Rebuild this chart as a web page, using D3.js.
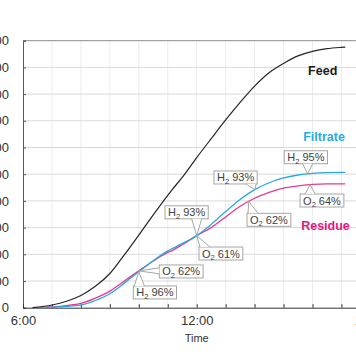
<!DOCTYPE html>
<html><head><meta charset="utf-8">
<script src="https://cdn.jsdelivr.net/npm/d3@7"></script>
<style>html,body{margin:0;padding:0;background:#fff;overflow:hidden}</style>
</head><body>
<svg id="chart" width="356" height="364"></svg>
<script>
// ---- data ----
const times = ["6:20","7:00","7:30","8:00","8:30","9:00","9:30","10:00","10:30","11:00","11:10","11:30","12:00","12:30","13:00","13:30","14:00","14:30","15:00","15:30","16:00","16:30","17:00","17:08"];
const feed     = [0, 10, 24, 46, 80, 128, 198, 272, 348, 421, 444, 488, 562, 633, 703, 769, 830, 880, 915, 943, 960, 970, 975, 976];
const filtrate = [0, 2, 5, 10, 27, 52, 92, 135, 176, 213, 222, 240, 270, 312, 360, 405, 442, 468, 486, 497, 503, 506, 507, 507];
const residue  = [0, 3, 8, 16, 36, 62, 100, 138, 175, 207, 215, 236, 270, 300, 340, 380, 410, 432, 448, 456, 462, 464, 464, 464];
const seriesNames = ["Feed", "Filtrate", "Residue"];
const yTicks = [0,100,200,300,400,500,600,700,800,900,1000];
const xTickLabels = ["6:00","12:00","18:00"];
const xAxisTitle = "Time";
// annotations: gas, percent, series, time
const annGas     = ["H","O","H","O","H","O","H","O"];
const annPercent = ["96%","62%","93%","61%","93%","62%","95%","64%"];
const annSeries  = ["Filtrate","Residue","Filtrate","Residue","Filtrate","Residue","Filtrate","Residue"];
const annTime    = ["10:00","10:00","12:00","12:00","14:00","13:48","15:50","15:55"];

// ---- layout / style ----
const layout = {
  left: 23, right: 370.4, top: 40.7, bottom: 307.7,
  annOffset: [[-5.5,14.3,"top"],[20.5,-5.9,"left"],[-31.7,-29.8,"bottom"],[2.3,11.4,"top"],
              [-40.6,-18.7,"bottom"],[-1.8,11.9,"top"],[-23.4,-23.2,"bottom"],[-10,9.4,"top"]],
  seriesLabelPos: [[322.7,74.5],[324,140.5],[325.5,229.5]]
};
const colors = {Feed:"#262626", Filtrate:"#29a8e0", Residue:"#e8388c"};
const labelColors = {Feed:"#1a1a1a", Filtrate:"#29abe2", Residue:"#e6157f"};
const font = "'Liberation Sans', Arial, sans-serif";

const toH = s => { const [h,m] = s.split(":").map(Number); return h + m/60; };
const hours = times.map(toH);
const seriesData = {Feed: feed, Filtrate: filtrate, Residue: residue};

const svg = d3.select("#chart");
const x = d3.scaleLinear().domain([6,18]).range([layout.left, layout.right]);
const y = d3.scaleLinear().domain([0,1000]).range([layout.bottom, layout.top]);

// grid
const g = svg.append("g");
g.selectAll("line.vg").data(d3.range(7,18)).join("line")
  .attr("x1", d=>x(d)).attr("x2", d=>x(d)).attr("y1", layout.top).attr("y2", layout.bottom)
  .attr("stroke", "#ececec").attr("stroke-width", 1);
g.selectAll("line.hg").data(yTicks.filter(v=>v>0 && v<1000)).join("line")
  .attr("x1", layout.left).attr("x2", layout.right).attr("y1", d=>y(d)).attr("y2", d=>y(d))
  .attr("stroke", "#d9d9d9").attr("stroke-width", 1);

// frame top
svg.append("line").attr("x1", layout.left).attr("x2", layout.right)
  .attr("y1", layout.top).attr("y2", layout.top).attr("stroke", "#8c8c8c");

// axes
const yAxis = d3.axisLeft(y).tickValues(yTicks).tickSize(-3).tickPadding(14);
const ya = svg.append("g").attr("transform", `translate(${layout.left},0)`).call(yAxis);
ya.select(".domain").attr("stroke", "#595959");
ya.selectAll(".tick line").attr("stroke", "#595959");
ya.selectAll("text").attr("font-family", font).attr("font-size", 13).attr("fill", "#333");

const xAxis = d3.axisBottom(x).tickValues(d3.range(6,19)).tickSize(-3.5).tickPadding(8)
  .tickFormat(d => d % 6 === 0 ? xTickLabels[(d-6)/6] : "");
const xa = svg.append("g").attr("transform", `translate(0,${layout.bottom})`).call(xAxis);
xa.select(".domain").attr("stroke", "#333");
xa.selectAll(".tick line").attr("stroke", "#333");
xa.selectAll("text").attr("font-family", font).attr("font-size", 13).attr("fill", "#333");

svg.append("text").attr("x", x(12)).attr("y", 341.7).attr("text-anchor", "middle")
  .attr("font-family", font).attr("font-size", 11).attr("fill", "#333").text(xAxisTitle);

// lines
const line = d3.line().x((d,i)=>x(hours[i])).y(d=>y(d)).curve(d3.curveMonotoneX);
["Residue","Filtrate","Feed"].forEach(name => {
  svg.append("path").datum(seriesData[name]).attr("d", line)
    .attr("fill", "none").attr("stroke", colors[name]).attr("stroke-width", name==="Feed"?1.2:1.3);
});

// series labels
seriesNames.forEach((name,i) => {
  svg.append("text").attr("x", layout.seriesLabelPos[i][0]).attr("y", layout.seriesLabelPos[i][1])
    .attr("text-anchor", "middle").attr("font-family", font).attr("font-size", 12.5)
    .attr("font-weight", "bold").attr("fill", labelColors[name]).text(name);
});

// annotations
function valueAt(arr, h) {
  for (let i=0;i<hours.length-1;i++) {
    if (h>=hours[i] && h<=hours[i+1]) {
      const t=(h-hours[i])/(hours[i+1]-hours[i]); return arr[i]+t*(arr[i+1]-arr[i]);
    }
  }
  return arr[arr.length-1];
}
annGas.forEach((gas,i) => {
  const h = toH(annTime[i]);
  const tx = x(h), ty = y(valueAt(seriesData[annSeries[i]], h));
  const [dx,dy,side] = layout.annOffset[i];
  const bx = tx+dx, by = ty+dy;
  const ag = svg.append("g");
  const rect = ag.append("rect").attr("x", bx).attr("y", by).attr("height", 13)
    .attr("fill", "#fff").attr("stroke", "#a6a6a6").attr("stroke-width", 1);
  const txt = ag.append("text").attr("x", bx+3).attr("y", by+10.5)
    .attr("font-family", font).attr("font-size", 11).attr("fill", "#404040");
  txt.append("tspan").text(gas);
  txt.append("tspan").attr("font-size", 7.5).attr("dy", 2.5).text("2");
  txt.append("tspan").attr("dy", -2.5).text("\u00a0" + annPercent[i]);
  const w = txt.node().getComputedTextLength() + 6;
  rect.attr("width", w);
  const bh = 13, hw = 5;
  let p1, p2;
  if (side === "top" || side === "bottom") {
    const ey = side === "top" ? by : by + bh;
    const cx = Math.max(bx+hw+1, Math.min(bx+w-hw-1, tx));
    p1 = [cx-hw, ey]; p2 = [cx+hw, ey];
  } else {
    const ex = side === "left" ? bx : bx + w;
    const cy = Math.max(by+4, Math.min(by+bh-4, ty));
    p1 = [ex, cy-3]; p2 = [ex, cy+3];
  }
  ag.append("path").attr("d", `M${p1}L${tx},${ty}L${p2}Z`).attr("fill", "#fff").attr("stroke", "none");
  ag.append("path").attr("d", `M${p1}L${tx},${ty}L${p2}`).attr("fill", "none")
    .attr("stroke", "#a6a6a6").attr("stroke-width", 1);
});
</script>
</body></html>
